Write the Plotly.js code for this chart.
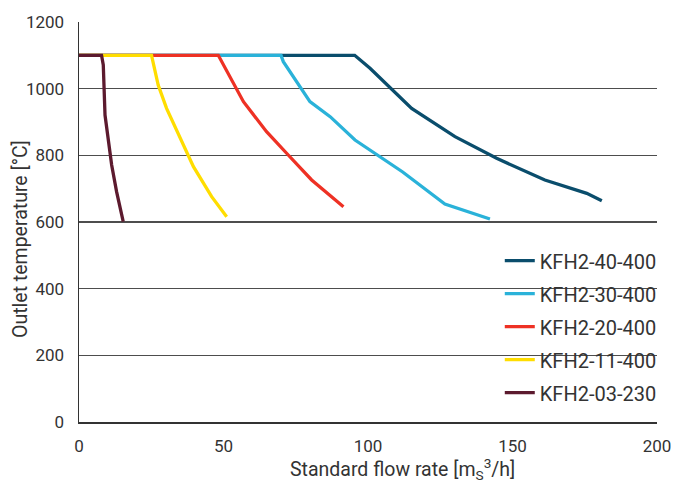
<!DOCTYPE html>
<html><head><meta charset="utf-8">
<script src="https://cdn.plot.ly/plotly-3.0.1.min.js"></script>
<style>html,body{margin:0;padding:0;background:#fff}#c{width:675px;height:482px}</style>
</head><body><div id="c"></div>
<script>
const seriesNames = ['KFH2-40-400','KFH2-30-400','KFH2-20-400','KFH2-11-400','KFH2-03-230'];
const seriesColors = ['#0a4d6c','#2ab2d9','#ee3124','#ffdd00','#5c1a2e'];
const flow40 = [0, 95.4, 100.7, 115.1, 130.1, 144.5, 161.2, 175.7, 180.9];
const temp40 = [1100, 1100, 1061, 941, 856, 791, 726, 686, 664];
const flow30 = [0, 69.9, 70.7, 79.9, 86.9, 95.5, 112, 126.6, 142.2];
const temp30 = [1100, 1100, 1081, 961, 916, 846, 750, 654, 609];
const flow20 = [0, 48.2, 56.9, 64.9, 72.4, 80.5, 91.5];
const temp20 = [1100, 1100, 961, 871, 801, 726, 646];
const flow11 = [0, 25.1, 27.4, 30.3, 39.6, 45.9, 51.1];
const temp11 = [1100, 1100, 1011, 941, 766, 676, 616];
const flow03 = [0, 7.8, 8.4, 9.0, 11.3, 13.0, 15.3];
const temp03 = [1100, 1100, 1071, 921, 771, 691, 601];
const xTicks = [0, 50, 100, 150, 200];
const yTicks = [0, 200, 400, 600, 800, 1000, 1200];
const yGrid = [200, 400, 600, 800, 1000];
const xTitle = 'Standard flow rate [m<sub>S</sub><sup>3</sup>/h]';
const yTitle = 'Outlet temperature [°C]';

const flows = [flow40, flow30, flow20, flow11, flow03];
const temps = [temp40, temp30, temp20, temp11, temp03];
const font = 'Roboto, "DejaVu Sans", sans-serif';

const traces = [{x: [0], y: [0], yaxis: 'y2', mode: 'none', showlegend: false, hoverinfo: 'skip'}];
seriesNames.forEach((n, i) => traces.push({
  x: flows[i], y: temps[i], name: n, type: 'scatter', mode: 'lines',
  line: {color: seriesColors[i], width: 3.3}, legendgroup: 'g' + i
}));

const layout = {
  width: 675, height: 482,
  margin: {l: 79, r: 18, t: 22, b: 60},
  paper_bgcolor: '#fff', plot_bgcolor: '#fff',
  font: {family: font, color: '#333', size: 17},
  showlegend: true,
  legend: {x: 0.728, y: 0.452, xanchor: 'left', yanchor: 'top', traceorder: 'grouped',
    tracegroupgap: 4, font: {family: font, size: 20, color: '#333'}, bgcolor: 'rgba(0,0,0,0)'},
  xaxis: {range: [0, 200], tickvals: xTicks, ticktext: xTicks.map(String), showgrid: false,
    zeroline: false, showline: true, linecolor: '#333', linewidth: 1.5, ticks: '',
    tickfont: {size: 17, color: '#333'}, ticklabelstandoff: 8},
  yaxis: {range: [0, 1200], tickvals: yTicks, ticktext: yTicks.map(String), showgrid: false,
    zeroline: false, showline: true, linecolor: '#333', linewidth: 1.5, ticks: '',
    tickfont: {size: 17, color: '#333'}, ticklabelstandoff: 10},
  yaxis2: {range: [0, 1200], overlaying: 'y', tickvals: yGrid, showticklabels: false,
    showgrid: true, gridcolor: '#4d4d4d', gridwidth: 1.2, zeroline: false, showline: false},
  annotations: [
    {text: xTitle, xref: 'paper', yref: 'paper', x: (402 - 79) / 578, y: (422 - 469) / 400,
     xanchor: 'center', yanchor: 'middle', showarrow: false, font: {size: 19.5, color: '#333'}},
    {text: yTitle, xref: 'paper', yref: 'paper', x: (20 - 79) / 578, y: (422 - 239) / 400,
     xanchor: 'center', yanchor: 'middle', textangle: -90, showarrow: false, font: {size: 19.5, color: '#333'}}
  ]
};
Plotly.newPlot('c', traces, layout, {staticPlot: true});
</script></body></html>
